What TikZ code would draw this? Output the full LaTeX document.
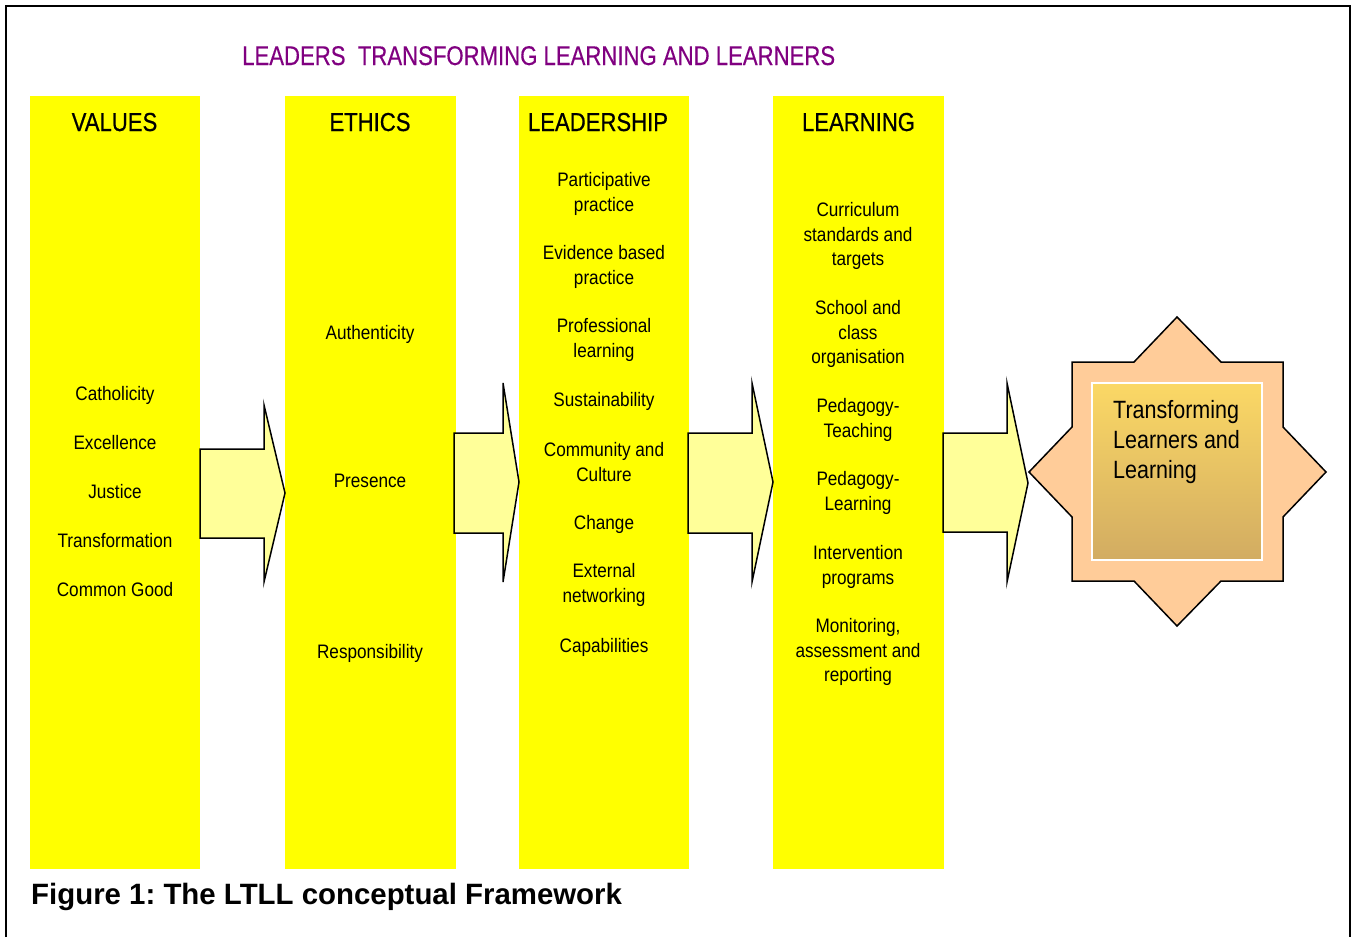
\documentclass[tikz,border=0pt]{standalone}
\usepackage{fontspec}
\setmainfont{Liberation Sans}
\newfontfamily\bodyfont{Liberation Sans}[FakeStretch=0.88]
\newfontfamily\headfont{Liberation Sans}[FakeStretch=0.85, FakeBold=0.6]
\newfontfamily\titlefont{Liberation Sans}[FakeStretch=0.82, FakeBold=0.3]
\newfontfamily\corefont{Liberation Sans}[FakeStretch=0.86]
\usetikzlibrary{shadings}
\frenchspacing

\definecolor{colyellow}{HTML}{FFFF00}
\definecolor{arrowfill}{HTML}{FFFF99}
\definecolor{starfill}{HTML}{FFCC99}
\definecolor{titlepurple}{HTML}{800080}
\definecolor{coretop}{HTML}{FBD865}
\definecolor{corebottom}{HTML}{D2AC62}

\tikzset{
  column/.style={fill=colyellow, draw=none, anchor=north west, inner sep=0pt,
    minimum height=773pt},
  header/.style={anchor=base, inner sep=0pt,
    font=\headfont\fontsize{26}{30}\selectfont},
  item/.style={align=center, inner sep=0pt,
    font=\bodyfont\fontsize{19.5}{24.5}\selectfont},
  blockarrow/.style={fill=arrowfill, draw=black, line width=1.5pt, line join=miter},
}

\begin{document}
\begin{tikzpicture}[x=1pt, y=-1pt]
\useasboundingbox (0,0) rectangle (1356,937);

% outer frame (open at the bottom)
\draw[line width=2pt] (6,937) -- (6,6) -- (1350,6) -- (1350,937);

% title
\node[anchor=base west, inner sep=0pt, text=titlepurple,
      font=\titlefont\fontsize{27}{30}\selectfont] (title) at (242,65)
  {LEADERS\ \ TRANSFORMING LEARNING AND LEARNERS};

% the four columns
\node[column, minimum width=170pt] (values) at (30,96) {};
\node[column, minimum width=171pt] (ethics) at (285,96) {};
\node[column, minimum width=170pt] (leadership) at (519,96) {};
\node[column, minimum width=171pt] (learning) at (773,96) {};

% column headers
\node[header] (hvalues) at (114.5,131) {VALUES};
\node[header] (hethics) at (370,131) {ETHICS};
\node[header] (hleadership) at (598,131) {LEADERSHIP};
\node[header] (hlearning) at (858.5,131) {LEARNING};

% VALUES items
\node[item] (v1) at (115,395) {Catholicity};
\node[item] (v2) at (115,443) {Excellence};
\node[item] (v3) at (115,492) {Justice};
\node[item] (v4) at (115,541) {Transformation};
\node[item] (v5) at (115,590) {Common Good};

% ETHICS items
\node[item] (e1) at (370,334) {Authenticity};
\node[item] (e2) at (370,481) {Presence};
\node[item] (e3) at (370,653) {Responsibility};

% LEADERSHIP items
\node[item] (l1) at (604,194) {Participative\\practice};
\node[item] (l2) at (604,267) {Evidence based\\practice};
\node[item] (l3) at (604,340) {Professional\\learning};
\node[item] (l4) at (604,401) {Sustainability};
\node[item] (l5) at (604,462) {Community and\\Culture};
\node[item] (l6) at (604,524) {Change};
\node[item] (l7) at (604,585) {External\\networking};
\node[item] (l8) at (604,647) {Capabilities};

% LEARNING items
\node[item] (n1) at (858,236) {Curriculum\\standards and\\targets};
\node[item] (n2) at (858,334) {School and\\class\\organisation};
\node[item] (n3) at (858,420) {Pedagogy-\\Teaching};
\node[item] (n4) at (858,493) {Pedagogy-\\Learning};
\node[item] (n5) at (858,567) {Intervention\\programs};
\node[item] (n6) at (858,652) {Monitoring,\\assessment and\\reporting};

% block arrows between the columns
\draw[blockarrow] (200,449) -- (264,449) -- (264,405) -- (285,493)
  -- (264,582) -- (264,538) -- (200,538) -- cycle;
\draw[blockarrow] (454,433) -- (503,433) -- (503,383) -- (519,482)
  -- (503,582) -- (503,533) -- (454,533) -- cycle;
\draw[blockarrow] (688,433) -- (752,433) -- (752,383) -- (773,482)
  -- (752,582) -- (752,533) -- (688,533) -- cycle;
\draw[blockarrow] (943,433) -- (1007,433) -- (1007,383) -- (1028,483)
  -- (1007,582) -- (1007,532) -- (943,532) -- cycle;

% eight-pointed star
\draw[fill=starfill, draw=black, line width=1.5pt, line join=miter]
  (1177,317) -- (1221,362) -- (1283,362) -- (1283,427) -- (1326,472)
  -- (1283,517) -- (1283,581) -- (1221,581) -- (1177,626) -- (1134,581)
  -- (1072,581) -- (1072,517) -- (1029,472) -- (1072,427) -- (1072,362)
  -- (1134,362) -- cycle;

% shaded core panel
\node[draw=white, line width=1.5pt, top color=coretop, bottom color=corebottom,
      minimum width=170pt, minimum height=177pt, inner sep=0pt]
  (core) at (1177,471.5) {};
\node[anchor=north west, align=left, inner sep=0pt,
      font=\corefont\fontsize{25}{30}\selectfont] (coretext) at (1113,400)
  {Transforming\\Learners and\\Learning};

% caption
\node[anchor=base west, inner sep=0pt, font=\bfseries\fontsize{29.4}{32}\selectfont]
  (caption) at (31,904) {Figure 1: The LTLL conceptual Framework};
\end{tikzpicture}
\end{document}
